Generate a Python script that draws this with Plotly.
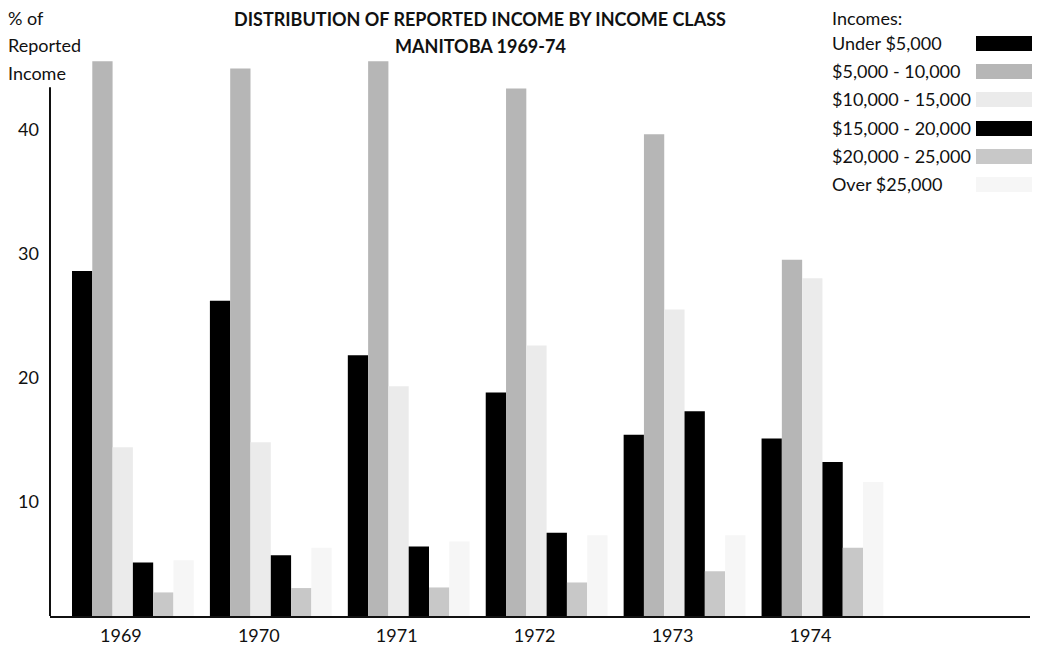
import plotly.graph_objects as go

# ---------------- data ----------------
years = [1969, 1970, 1971, 1972, 1973, 1974]
year_labels = ["1969", "1970", "1971", "1972", "1973", "1974"]
series_names = ["Under $5,000", "$5,000 - 10,000", "$10,000 - 15,000",
                "$15,000 - 20,000", "$20,000 - 25,000", "Over $25,000"]
under_5k = [27.8, 25.4, 21.0, 18.0, 14.6, 14.3]
inc_5_10k = [44.7, 44.1, 44.7, 42.5, 38.8, 28.7]
inc_10_15k = [13.6, 14.0, 18.5, 21.8, 24.7, 27.2]
inc_15_20k = [4.3, 4.9, 5.6, 6.7, 16.5, 12.4]
inc_20_25k = [1.9, 2.25, 2.3, 2.7, 3.6, 5.5]
over_25k = [4.5, 5.5, 6.0, 6.5, 6.5, 10.8]
y_ticks = [10, 20, 30, 40]
y_tick_labels = ["10", "20", "30", "40"]

series_values = [under_5k, inc_5_10k, inc_10_15k, inc_15_20k, inc_20_25k, over_25k]
colors = ["#000000", "#b6b6b6", "#ebebeb", "#000000", "#c8c8c8", "#f6f6f6"]

# ---------------- layout geometry ----------------
# the page body adds an 8px margin, so the figure is 8px smaller than the window
OFF = 8
W, H = 1040 - OFF, 646 - OFF
ML, MR, MT, MB = 42, 10, 37, 30
PW = W - ML - MR
PH = H - MT - MB

def px(x):
    """window pixel x -> paper fraction"""
    return (x - OFF - ML) / PW

def py(y):
    """window pixel y -> paper fraction"""
    return (H - MB - (y - OFF)) / PH

FONT = "Lato"
TXT = "#111111"

fig = go.Figure()
for name, vals, col in zip(series_names, series_values, colors):
    fig.add_trace(go.Bar(x=years, y=vals, name=name, marker=dict(color=col, line=dict(width=0)),
                         showlegend=False))

fig.update_layout(
    width=W, height=H,
    margin=dict(l=ML, r=MR, t=MT, b=MB, pad=0, autoexpand=False),
    paper_bgcolor="white", plot_bgcolor="white",
    barmode="group", bargap=0.117, bargroupgap=0,
    font=dict(family=FONT, size=18, color=TXT),
)
fig.update_xaxes(range=[1968.399, 1975.505], tickvals=years, ticktext=year_labels,
                 automargin=False,
                 showline=True, linecolor="#111", linewidth=2, showgrid=False, zeroline=False,
                 ticks="", ticklabelshift=-12, ticklabelstandoff=2,
                 tickfont=dict(family=FONT, size=18, color=TXT))
fig.update_yaxes(range=[0, 46], tickvals=y_ticks, ticktext=y_tick_labels,
                 automargin=False,
                 showline=False, showgrid=False, zeroline=False, ticks="",
                 ticklabelshift=10, ticklabelstandoff=10,
                 tickfont=dict(family=FONT, size=18, color=TXT))

shapes = []
# y axis line (stops below the tallest bars, as in the original)
shapes.append(dict(type="line", xref="paper", yref="y", x0=0, x1=0, y0=0, y1=42.6,
                   line=dict(color="#111", width=2)))

ann = []
def add_text(text, x, y, size=18, anchor="left", bold=False):
    ann.append(dict(text=text, xref="paper", yref="paper", x=px(x), y=py(y),
                    xanchor=anchor, yanchor="middle", showarrow=False,
                    font=dict(family=FONT, size=size, color=TXT, weight=700 if bold else 400)))

# axis title (top-left)
add_text("% of", 6, 18, size=18)
add_text("Reported", 6, 45, size=18)
add_text("Income", 6, 73, size=18)

# chart title
add_text("DISTRIBUTION OF REPORTED INCOME BY INCOME CLASS", 480, 19, size=18, anchor="center", bold=True)
add_text("MANITOBA 1969-74", 480, 46, size=18, anchor="center", bold=True)

# legend
add_text("Incomes:", 830, 18, size=18)
leg_y = [43, 71, 99, 128, 156, 184]
for name, col, yy in zip(series_names, colors, leg_y):
    add_text(name, 830, yy, size=18)
    shapes.append(dict(type="rect", xref="paper", yref="paper",
                       x0=px(976), x1=px(1037), y0=py(yy + 8), y1=py(yy - 7),
                       line=dict(width=0), fillcolor=col))

fig.update_layout(shapes=shapes, annotations=ann)
fig.write_html("out.html")
